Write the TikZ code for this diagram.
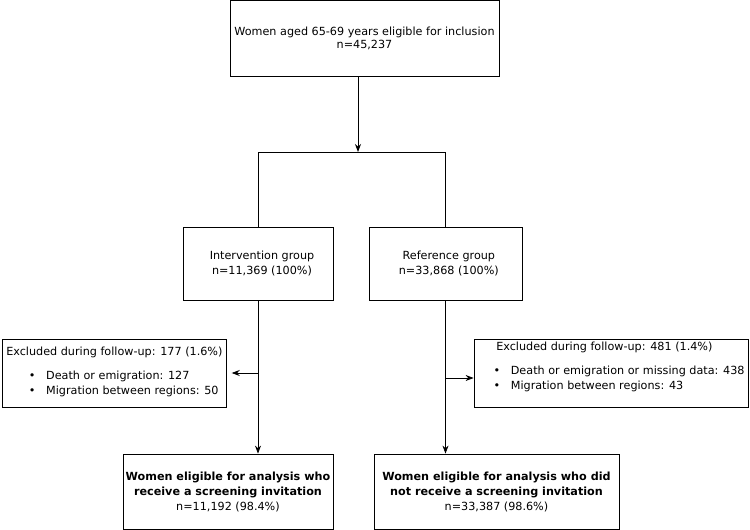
\documentclass[tikz,border=0pt]{standalone}
\usepackage{fontspec}
\setmainfont{DejaVu Sans}
\usepackage{tikz}
\usetikzlibrary{arrows.meta,positioning}

\begin{document}
\begin{tikzpicture}[x=0.75pt,y=0.75pt,yscale=-1,xscale=1,
  every node/.style={font=\fontsize{8.4}{11.25}\selectfont},
  box/.style={draw, line width=0.6pt, inner sep=0.75pt, align=center},
  conn/.style={line width=0.6pt},
  arr/.style={conn, -{Stealth[length=6pt,width=4.5pt]}}]
\useasboundingbox (0,0) rectangle (750,530);

%Shape: Rectangle [top]
\node [box, minimum width=269*0.75pt, minimum height=76*0.75pt, font=\fontsize{8.4}{9.75}\selectfont] (elig) at (364.5,38) {Women aged 65-69 years eligible for inclusion\\n=45,237};
%Shape: Rectangle [groups]
\node [box, minimum width=150*0.75pt, minimum height=73*0.75pt] (interv) at (258,263.5) {\hspace*{6pt}Intervention group\\\hspace*{6pt}n=11,369 (100\%)};
\node [box, minimum width=153*0.75pt, minimum height=73*0.75pt] (refgrp) at (445.5,263.5) {\hspace*{5pt}Reference group\\\hspace*{5pt}n=33,868 (100\%)};
%Shape: Rectangle [exclusions]
\node [box, minimum width=224*0.75pt, minimum height=68*0.75pt] (exclI) at (114,373) {};
\node [box, minimum width=274*0.75pt, minimum height=68*0.75pt] (exclR) at (611,373) {};
%Shape: Rectangle [analysis]
\node [box, minimum width=210*0.75pt, minimum height=75*0.75pt] (analI) at (228,491.5) {\textbf{Women eligible for analysis who}\\\textbf{receive a screening invitation}\\n=11,192 (98.4\%)};
\node [box, minimum width=245*0.75pt, minimum height=75*0.75pt] (analR) at (496.5,491.5) {\textbf{Women eligible for analysis who did}\\\textbf{not receive a screening invitation}\\n=33,387 (98.6\%)};

% Text Node
\node [anchor=west, inner sep=0pt, align=left] (txtI) at (6,372) {Excluded during follow-up: 177 (1.6\%)\\[6.5pt]
  \hspace*{17pt}\textbullet\hspace{8pt}Death or emigration: 127\\
  \hspace*{17pt}\textbullet\hspace{8pt}Migration between regions: 50};
% Text Node
\node [anchor=west, inner sep=0pt, align=left] (txtR) at (492,367) {\hspace*{3pt}Excluded during follow-up: 481 (1.4\%)\\[6.5pt]
  \hspace*{1pt}\textbullet\hspace{8pt}Death or emigration or missing data: 438\\
  \hspace*{1pt}\textbullet\hspace{8pt}Migration between regions: 43};

\coordinate (split) at (358,152);
%Straight Lines
\draw [arr] (elig.south -| split) -- (split);
\draw [conn] (interv.north) |- (refgrp.north |- split) -- (refgrp.north);
\draw [arr] (interv.south) -- (interv.south |- analI.north);
\draw [arr] (refgrp.south) -- (refgrp.south |- analR.north);
\draw [arr, shorten >=4pt] (interv.south |- exclI.east) -- (exclI.east);
\draw [arr] ([yshift=3.75pt]refgrp.south |- exclR.west) -- ([yshift=3.75pt]exclR.west);

\end{tikzpicture}
\end{document}
